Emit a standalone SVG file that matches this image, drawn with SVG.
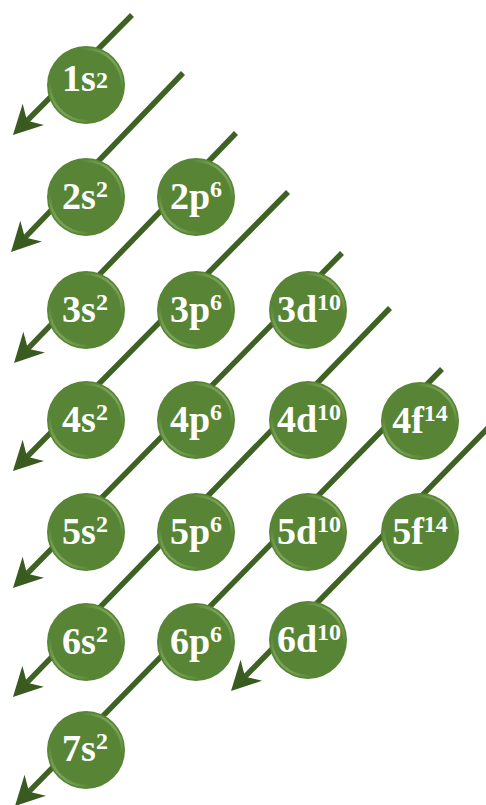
<svg xmlns="http://www.w3.org/2000/svg" width="486" height="805" viewBox="0 0 486 805">
<style>
.ln{stroke:#3e6223;stroke-width:5.5;fill:none;marker-end:url(#ah)}
.orb{fill:#578535}
.hl{fill:none;stroke:url(#hlg);stroke-width:2.5}
.lbl{font-family:"Liberation Serif","Times New Roman",serif;font-weight:bold;font-size:38px;fill:#ffffff;text-anchor:middle}
.sup{font-size:24px}
</style>
<defs>
<marker id="ah" markerUnits="userSpaceOnUse" markerWidth="32" markerHeight="32" viewBox="0 -16 30 32" refX="10" refY="0" orient="auto">
<path d="M0,-15 L29,0 L0,15 L9,0 Z" fill="#3a5b1f"/>
</marker>
<linearGradient id="hlg" x1="1" y1="0" x2="0" y2="1">
<stop offset="0" stop-color="#b9d49a" stop-opacity="0.9"/>
<stop offset="0.28" stop-color="#9cbf78" stop-opacity="0"/>
<stop offset="0.72" stop-color="#9cbf78" stop-opacity="0"/>
<stop offset="1" stop-color="#b9d49a" stop-opacity="0.9"/>
</linearGradient>
</defs>
<g id="connectors">
<path class="ln" d="M132,15 L26.3,121.5"/>
<path class="ln" d="M183,73 L24.2,238.3"/>
<path class="ln" d="M236,133 L27.2,349.4"/>
<path class="ln" d="M288,192 L26.3,457.5"/>
<path class="ln" d="M342,253 L26.3,574.5"/>
<path class="ln" d="M390,308 L26.2,683.4"/>
<path class="ln" d="M442,369 L28.3,792.4"/>
<path class="ln" d="M488,428 L244.3,677.4"/>
</g>
<g id="n1s"><circle class="orb" cx="86" cy="85" r="39"/><circle class="hl" cx="86" cy="85" r="36"/><text class="lbl" x="85" y="91">1s<tspan class="sup" dy="-3">2</tspan></text></g>
<g id="n2s"><circle class="orb" cx="86" cy="197" r="39"/><circle class="hl" cx="86" cy="197" r="36"/><text class="lbl" x="85" y="209">2s<tspan class="sup" dy="-12">2</tspan></text></g>
<g id="n2p"><circle class="orb" cx="196" cy="197" r="39"/><circle class="hl" cx="196" cy="197" r="36"/><text class="lbl" x="196" y="209">2p<tspan class="sup" dy="-12">6</tspan></text></g>
<g id="n3s"><circle class="orb" cx="86" cy="310" r="39"/><circle class="hl" cx="86" cy="310" r="36"/><text class="lbl" x="85" y="322">3s<tspan class="sup" dy="-12">2</tspan></text></g>
<g id="n3p"><circle class="orb" cx="196" cy="310" r="39"/><circle class="hl" cx="196" cy="310" r="36"/><text class="lbl" x="196" y="322">3p<tspan class="sup" dy="-12">6</tspan></text></g>
<g id="n3d"><circle class="orb" cx="308" cy="310" r="39"/><circle class="hl" cx="308" cy="310" r="36"/><text class="lbl" x="309" y="322">3d<tspan class="sup" dy="-12">10</tspan></text></g>
<g id="n4s"><circle class="orb" cx="86" cy="420" r="39"/><circle class="hl" cx="86" cy="420" r="36"/><text class="lbl" x="85" y="432">4s<tspan class="sup" dy="-12">2</tspan></text></g>
<g id="n4p"><circle class="orb" cx="196" cy="420" r="39"/><circle class="hl" cx="196" cy="420" r="36"/><text class="lbl" x="196" y="432">4p<tspan class="sup" dy="-12">6</tspan></text></g>
<g id="n4d"><circle class="orb" cx="308" cy="420" r="39"/><circle class="hl" cx="308" cy="420" r="36"/><text class="lbl" x="309" y="432">4d<tspan class="sup" dy="-12">10</tspan></text></g>
<g id="n4f"><circle class="orb" cx="420" cy="421" r="39"/><circle class="hl" cx="420" cy="421" r="36"/><text class="lbl" x="420" y="433">4f<tspan class="sup" dy="-12">14</tspan></text></g>
<g id="n5s"><circle class="orb" cx="86" cy="532" r="39"/><circle class="hl" cx="86" cy="532" r="36"/><text class="lbl" x="85" y="544">5s<tspan class="sup" dy="-12">2</tspan></text></g>
<g id="n5p"><circle class="orb" cx="196" cy="532" r="39"/><circle class="hl" cx="196" cy="532" r="36"/><text class="lbl" x="196" y="544">5p<tspan class="sup" dy="-12">6</tspan></text></g>
<g id="n5d"><circle class="orb" cx="308" cy="532" r="39"/><circle class="hl" cx="308" cy="532" r="36"/><text class="lbl" x="309" y="544">5d<tspan class="sup" dy="-12">10</tspan></text></g>
<g id="n5f"><circle class="orb" cx="420" cy="532" r="39"/><circle class="hl" cx="420" cy="532" r="36"/><text class="lbl" x="420" y="544">5f<tspan class="sup" dy="-12">14</tspan></text></g>
<g id="n6s"><circle class="orb" cx="86" cy="642" r="39"/><circle class="hl" cx="86" cy="642" r="36"/><text class="lbl" x="85" y="654">6s<tspan class="sup" dy="-12">2</tspan></text></g>
<g id="n6p"><circle class="orb" cx="196" cy="642" r="39"/><circle class="hl" cx="196" cy="642" r="36"/><text class="lbl" x="196" y="654">6p<tspan class="sup" dy="-12">6</tspan></text></g>
<g id="n6d"><circle class="orb" cx="308" cy="640" r="39"/><circle class="hl" cx="308" cy="640" r="36"/><text class="lbl" x="309" y="652">6d<tspan class="sup" dy="-12">10</tspan></text></g>
<g id="n7s"><circle class="orb" cx="86" cy="750" r="39"/><circle class="hl" cx="86" cy="750" r="36"/><text class="lbl" x="85" y="761">7s<tspan class="sup" dy="-12">2</tspan></text></g>
</svg>
